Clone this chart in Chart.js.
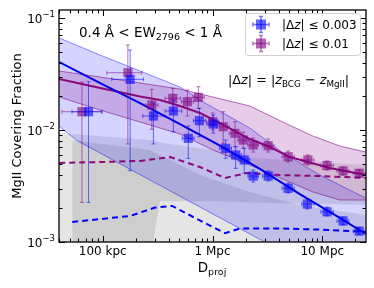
<!DOCTYPE html>
<html>
<head>
<meta charset="utf-8">
<script src="https://cdn.jsdelivr.net/npm/chart.js@4.4.0/dist/chart.umd.min.js"></script>
<style>
html, body { margin: 0; padding: 0; background: #fff; }
#wrap { width: 374px; height: 288px; }
</style>
</head>
<body>
<div id="wrap"><canvas id="chart" width="374" height="288"></canvas></div>
<script>
// axis ticks
const xMajor = [100, 1000, 10000];
const xTickLabels = ['100 kpc', '1 Mpc', '10 Mpc'];
const yMajor = [0.001, 0.01, 0.1];
const yTickExp = ['\u22123', '\u22122', '\u22121'];

// |dz| <= 0.003 measurements (kpc, fraction)
const blueDist = [74.3, 177.8, 289.6, 440, 602, 759, 1016, 1318, 1625, 1945, 2349, 3217, 4887, 7305, 11040, 15450, 21680];
const blueDistLo = [52.5, 121, 232, 370, 530, 670, 890, 1160, 1440, 1720, 2100, 2850, 4300, 6500, 9700, 13600, 19100];
const blueDistHi = [98.3, 235, 370, 525, 680, 860, 1150, 1490, 1830, 2180, 2620, 3630, 5550, 8400, 12600, 17500, 24600];
const blueFrac = [0.01457, 0.02836, 0.01334, 0.01478, 0.00843, 0.01211, 0.01131, 0.00686, 0.00598, 0.0054, 0.00388, 0.00388, 0.00302, 0.00218, 0.00186, 0.00154, 0.00125];
const blueFracLo = [0.00226, 0.00433, 0.0075, 0.00966, 0.00559, 0.00871, 0.0094, 0.00559, 0.00455, 0.00411, 0.00343, 0.0035, 0.00274, 0.00197, 0.00171, 0.00142, 0.00117];
const blueFracHi = [0.027, 0.05179, 0.01731, 0.01853, 0.01086, 0.01562, 0.01361, 0.00814, 0.00709, 0.00686, 0.00439, 0.00431, 0.00336, 0.00242, 0.00205, 0.00167, 0.00135];

// |dz| <= 0.01 measurements
const purpleDist = [64.7, 169.5, 280, 435, 590, 743, 1004, 1253, 1603, 1905, 2349, 3217, 4887, 7383, 11040, 15450, 21680];
const purpleDistLo = [42.6, 109, 245, 370, 520, 660, 880, 1100, 1420, 1700, 2100, 2850, 4300, 6500, 9700, 13600, 19100];
const purpleDistHi = [98.3, 227, 320, 510, 670, 840, 1140, 1420, 1810, 2130, 2620, 3630, 5550, 8400, 12600, 17500, 24600];
const purpleFrac = [0.01457, 0.03248, 0.01672, 0.01919, 0.0179, 0.01959, 0.01186, 0.0107, 0.00934, 0.00814, 0.00735, 0.00724, 0.00578, 0.0054, 0.00482, 0.00431, 0.00411];
const purpleFracLo = [0.00226, 0.0075, 0.01015, 0.01508, 0.01334, 0.01562, 0.01, 0.00761, 0.00709, 0.0069, 0.00636, 0.00636, 0.00518, 0.00487, 0.00439, 0.00396, 0.0038];
const purpleFracHi = [0.02683, 0.0574, 0.02309, 0.02357, 0.02276, 0.02436, 0.01419, 0.01457, 0.01186, 0.0096, 0.00848, 0.00832, 0.00649, 0.00599, 0.00529, 0.00467, 0.00444];

// model fits
const blueFitDist = [40.2, 94.9, 219, 506, 1170, 2700, 6240, 14420, 24840];
const blueFitFrac = [0.04047, 0.02629, 0.01742, 0.01131, 0.00727, 0.00449, 0.00268, 0.00164, 0.00118];
const purpleFitDist = [40.2, 94.9, 219, 333, 506, 769, 1170, 2190, 3333, 5060, 11690, 24840];
const purpleFitFrac = [0.02854, 0.02371, 0.01991, 0.01853, 0.01638, 0.01419, 0.01155, 0.00831, 0.00705, 0.00574, 0.00458, 0.00396];

// model uncertainty bands
const blueBandDist = [40.2, 94.9, 219, 506, 855, 2190, 4285, 9487, 24840];
const blueBandHi = [0.0663, 0.0467, 0.03364, 0.0242, 0.01742, 0.01042, 0.00636, 0.00396, 0.00247];
const blueBandLoDist = [40.2, 58, 550, 3300, 24840];
const blueBandLo = [0.0108, 0.00808, 0.00245, 0.00095, 0.0003];
const purpleBandDist = [40.2, 94.9, 219, 506, 1010, 2190, 4561, 8194, 14420, 24840];
const purpleBandHi = [0.03364, 0.02973, 0.02629, 0.02323, 0.0197, 0.01638, 0.01155, 0.00884, 0.0072, 0.00636];
const purpleBandLo = [0.0197, 0.01508, 0.01179, 0.00921, 0.00663, 0.00487, 0.00358, 0.0028, 0.00237, 0.00237];

// random-position expectations (median and spread)
const purpleRandDist = [40.2, 94.9, 219, 410.9, 769, 1299, 2058, 4109, 9487, 24840];
const purpleRandFrac = [0.00508, 0.00518, 0.00529, 0.00574, 0.00467, 0.00373, 0.00413, 0.00396, 0.00388, 0.00373];
const blueRandDist = [52.8, 94.9, 177.8, 300, 428, 693, 1299, 1778, 4109, 9487, 24840];
const blueRandFrac = [0.00151, 0.0016, 0.00171, 0.00203, 0.0021, 0.00164, 0.0012, 0.00132, 0.00132, 0.00129, 0.00123];
const purpleRandBandDist = [40.2, 270, 282, 333, 990, 2336, 24840];
const purpleRandBandHi = [0.0094, 0.00814, 0.00814, 0.00775, 0.00663, 0.00562, 0.00487];
const purpleRandBandLo = [0.0003, 0.0003, 0.0009, 0.00231, 0.00231, 0.00225, 0.00214];
const blueRandBandDist = [52.8, 270, 769, 2190, 6240, 24840];
const blueRandBandHi = [0.00814, 0.00663, 0.00396, 0.0028, 0.00214, 0.00174];
const blueRandBandLo = [0.0003, 0.0003, 0.0003, 0.0003, 0.0003, 0.0003];

const BLUE = 'rgba(0,0,255,0.6)';
const PURPLE = 'rgba(128,0,128,0.6)';

function pts(xs, ys) {
    return xs.map((x, i) => ({ x: x, y: ys[i] }));
}

function band(xs, ys, color, edge, fill, order) {
    return {
        type: 'line', data: pts(xs, ys), showLine: true, pointRadius: 0,
        borderColor: edge, borderWidth: edge === 'transparent' ? 0 : 0.8,
        backgroundColor: color, fill: fill, order: order, tension: 0
    };
}

function curve(xs, ys, color, dash, order) {
    return {
        type: 'line', data: pts(xs, ys), showLine: true, pointRadius: 0,
        borderColor: color, borderWidth: 2, borderDash: dash, fill: false, order: order
    };
}

const datasets = [
    band(purpleRandBandDist, purpleRandBandHi, 'rgba(0,0,0,0.1)', 'transparent', '+1', 30),
    band(purpleRandBandDist, purpleRandBandLo, 'rgba(0,0,0,0)', 'transparent', false, 30),
    band(blueRandBandDist, blueRandBandHi, 'rgba(0,0,0,0.1)', 'transparent', '+1', 29),
    band(blueRandBandDist, blueRandBandLo, 'rgba(0,0,0,0)', 'transparent', false, 29),
    band(blueBandDist, blueBandHi, 'rgba(0,0,255,0.17)', 'rgba(0,0,255,0.55)', '+1', 20),
    band(blueBandLoDist, blueBandLo, 'rgba(0,0,0,0)', 'rgba(0,0,255,0.55)', false, 20),
    band(purpleBandDist, purpleBandHi, 'rgba(128,0,128,0.2)', 'rgba(128,0,128,0.7)', '+1', 19),
    band(purpleBandDist, purpleBandLo, 'rgba(0,0,0,0)', 'rgba(128,0,128,0.7)', false, 19),
    curve(purpleRandDist, purpleRandFrac, '#8a0a7a', [6, 4], 10),
    curve(blueRandDist, blueRandFrac, '#0000ff', [6, 4], 10),
    curve(purpleFitDist, purpleFitFrac, '#8a0a7a', [], 9),
    curve(blueFitDist, blueFitFrac, '#0000e6', [], 8),
    {
        type: 'scatter', data: pts(purpleDist, purpleFrac), pointStyle: 'rect', pointRadius: 6.5,
        backgroundColor: PURPLE, borderWidth: 0, order: 2,
        errX: [purpleDistLo, purpleDistHi], errY: [purpleFracLo, purpleFracHi], errColor: 'rgba(128,0,128,0.55)'
    },
    {
        type: 'scatter', data: pts(blueDist, blueFrac), pointStyle: 'rect', pointRadius: 6.5,
        backgroundColor: BLUE, borderWidth: 0, order: 1,
        errX: [blueDistLo, blueDistHi], errY: [blueFracLo, blueFracHi], errColor: 'rgba(0,0,255,0.55)'
    }
];

function drawErr(ctx, x0, y0, x1, y1, cap, vertical) {
    ctx.beginPath();
    ctx.moveTo(x0, y0); ctx.lineTo(x1, y1);
    if (vertical) {
        ctx.moveTo(x0 - cap, y0); ctx.lineTo(x0 + cap, y0);
        ctx.moveTo(x1 - cap, y1); ctx.lineTo(x1 + cap, y1);
    } else {
        ctx.moveTo(x0, y0 - cap); ctx.lineTo(x0, y0 + cap);
        ctx.moveTo(x1, y1 - cap); ctx.lineTo(x1, y1 + cap);
    }
    ctx.stroke();
}

// error bars under each marker set
const errorBars = {
    id: 'errorBars',
    beforeDatasetDraw(chart, args) {
        const ds = chart.data.datasets[args.index];
        if (!ds.errX) return;
        const { ctx, chartArea: a, scales: { x, y } } = chart;
        ctx.save();
        ctx.beginPath();
        ctx.rect(a.left, a.top, a.right - a.left, a.bottom - a.top);
        ctx.clip();
        ctx.strokeStyle = ds.errColor;
        ctx.lineWidth = 1;
        ds.data.forEach((p, i) => {
            const px = x.getPixelForValue(p.x), py = y.getPixelForValue(p.y);
            drawErr(ctx, x.getPixelForValue(ds.errX[0][i]), py, x.getPixelForValue(ds.errX[1][i]), py, 2, false);
            drawErr(ctx, px, y.getPixelForValue(ds.errY[0][i]), px, y.getPixelForValue(ds.errY[1][i]), 2, true);
        });
        ctx.restore();
    }
};

function drawRuns(ctx, runs, x, y, align) {
    let w = 0;
    runs.forEach(r => {
        ctx.font = (r.italic ? 'italic ' : '') + r.size + 'px "DejaVu Sans"';
        r.w = ctx.measureText(r.t).width;
        w += r.w;
    });
    let cx = align === 'right' ? x - w : align === 'center' ? x - w / 2 : x;
    runs.forEach(r => {
        ctx.font = (r.italic ? 'italic ' : '') + r.size + 'px "DejaVu Sans"';
        ctx.fillText(r.t, cx, y + (r.dy || 0));
        cx += r.w;
    });
}

// frame, inward ticks, labels, legend and notes
const decor = {
    id: 'decor',
    afterDraw(chart) {
        const { ctx, chartArea: a, scales: { x, y } } = chart;
        ctx.save();
        ctx.strokeStyle = '#000';
        ctx.fillStyle = '#000';
        ctx.lineWidth = 1;
        const tick = (x0, y0, x1, y1) => { ctx.beginPath(); ctx.moveTo(x0, y0); ctx.lineTo(x1, y1); ctx.stroke(); };
        for (let e = 1; e <= 4; e++) {
            for (let m = 1; m <= 9; m++) {
                const v = m * Math.pow(10, e);
                if (v < x.min || v > x.max) continue;
                const px = Math.round(x.getPixelForValue(v)) + 0.5;
                const len = m === 1 ? 6 : 3.5;
                tick(px, a.bottom, px, a.bottom - len);
                tick(px, a.top, px, a.top + len);
            }
        }
        for (let e = -3; e <= -1; e++) {
            for (let m = 1; m <= 9; m++) {
                const v = m * Math.pow(10, e);
                if (v < y.min || v > y.max * 1.0001) continue;
                const py = Math.round(y.getPixelForValue(v)) + 0.5;
                const len = m === 1 ? 6 : 3.5;
                tick(a.left, py, a.left + len, py);
                tick(a.right, py, a.right - len, py);
            }
        }
        ctx.lineWidth = 1.3;
        ctx.strokeRect(a.left, a.top, a.right - a.left, a.bottom - a.top);

        ctx.textBaseline = 'alphabetic';
        yMajor.forEach((v, i) => {
            const py = y.getPixelForValue(v);
            drawRuns(ctx, [{ t: '10', size: 12 }, { t: yTickExp[i], size: 8.5, dy: -6 }], a.left - 4, py + 4.5, 'right');
        });

        // axis titles
        ctx.save();
        ctx.translate(21, 126);
        ctx.rotate(-Math.PI / 2);
        drawRuns(ctx, [{ t: 'MgII Covering Fraction', size: 13 }], 0, 0, 'center');
        ctx.restore();
        drawRuns(ctx, [{ t: 'D', size: 13.5 }, { t: 'proj', size: 9.5, dy: 3 }], 212, 272, 'center');

        // notes
        drawRuns(ctx, [{ t: '0.4 \u00c5 < EW', size: 13.5 }, { t: '2796', size: 9.5, dy: 3 }, { t: ' < 1 \u00c5', size: 13.5 }], 79, 37, 'left');
        drawRuns(ctx, [
            { t: '|\u0394', size: 12.8 }, { t: 'z', size: 12.8, italic: true }, { t: '| = |', size: 12.8 },
            { t: 'z', size: 12.8, italic: true }, { t: 'BCG', size: 8.8, dy: 3 }, { t: ' \u2212 ', size: 12.8 },
            { t: 'z', size: 12.8, italic: true }, { t: 'MgII', size: 8.8, dy: 3 }, { t: '|', size: 12.8 }
        ], 228, 84, 'left');

        // legend
        ctx.beginPath();
        ctx.roundRect(245.5, 13.5, 115, 42, 3);
        ctx.fillStyle = 'rgba(255,255,255,0.8)';
        ctx.fill();
        ctx.strokeStyle = '#d0d0d0';
        ctx.lineWidth = 1;
        ctx.stroke();
        [[BLUE, 'rgba(0,0,255,0.55)', '0.003', 24.5], [PURPLE, 'rgba(128,0,128,0.55)', '0.01', 43.5]].forEach(([fill, err, label, ly]) => {
            ctx.strokeStyle = err;
            ctx.lineWidth = 1.5;
            drawErr(ctx, 253, ly, 269, ly, 2, false);
            drawErr(ctx, 261, ly - 8, 261, ly + 8, 2, true);
            ctx.fillStyle = fill;
            ctx.fillRect(256, ly - 5, 10, 10);
            ctx.fillStyle = '#000';
            drawRuns(ctx, [
                { t: '|\u0394', size: 12 }, { t: 'z', size: 12, italic: true }, { t: '| \u2264 ' + label, size: 12 }
            ], 282, ly + 4.5, 'left');
        });
        ctx.restore();
    }
};

new Chart(document.getElementById('chart'), {
    type: 'scatter',
    data: { datasets: datasets },
    options: {
        responsive: false,
        animation: false,
        layout: { padding: { top: 10, right: 8, left: 0, bottom: 0 } },
        plugins: { legend: { display: false }, tooltip: { enabled: false } },
        scales: {
            x: {
                type: 'logarithmic', min: 40, max: 25000,
                grid: { display: false, drawTicks: false }, border: { display: false },
                afterBuildTicks: s => { s.ticks = xMajor.map(v => ({ value: v })); },
                afterFit: s => { s.height = 46; },
                ticks: {
                    autoSkip: false, maxRotation: 0, padding: 3, color: '#000',
                    font: { family: 'DejaVu Sans', size: 12 },
                    callback: (v, i) => xTickLabels[i]
                }
            },
            y: {
                type: 'logarithmic', min: 0.001, max: 0.118,
                grid: { display: false, drawTicks: false }, border: { display: false },
                ticks: { display: false },
                afterFit: s => { s.width = 59; }
            }
        }
    },
    plugins: [errorBars, decor]
});
</script>
</body>
</html>
